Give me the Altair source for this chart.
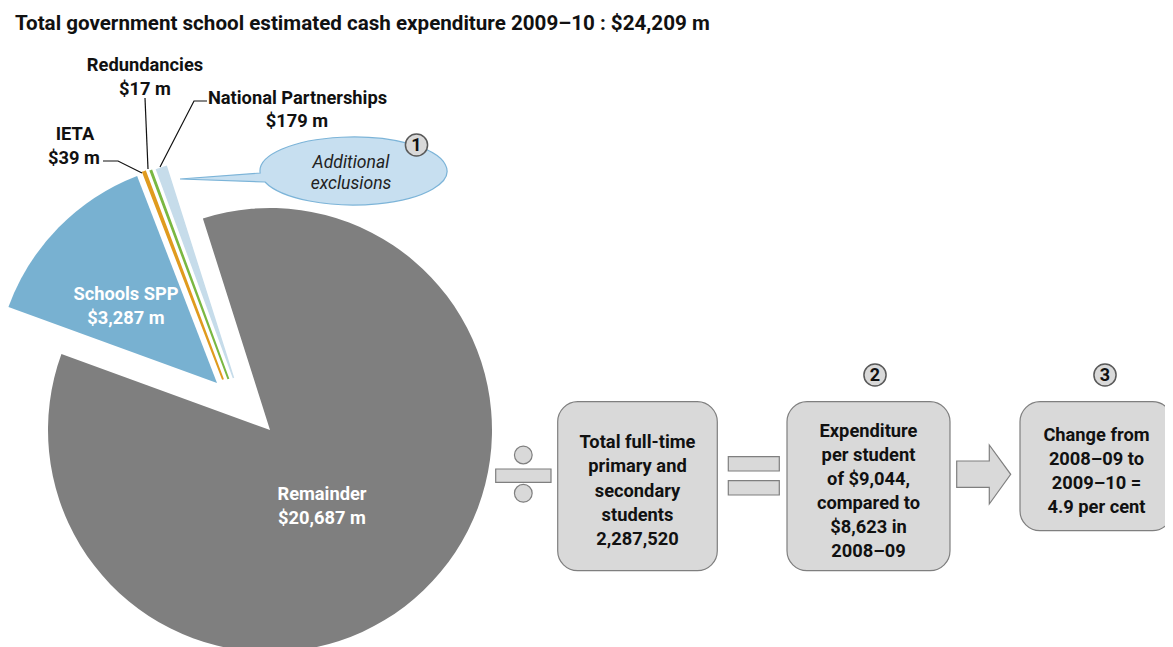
import math
import altair as alt
import pandas as pd

# ---------------- data ----------------
categories = ["Remainder", "Schools SPP", "IETA", "Redundancies", "National Partnerships"]
values = [20687, 3287, 39, 17, 179]          # $ million
slice_colors = ["#7f7f7f", "#78b1d1", "#e09b1e", "#7ab842", "#c6dcea"]
total = sum(values)                           # 24,209

title_text = "Total government school estimated cash expenditure 2009\u201310 : $24,209 m"
bubble_lines = ["Additional", "exclusions"]
box1_lines = ["Total full-time", "primary and", "secondary", "students", "2,287,520"]
box2_lines = ["Expenditure", "per student", "of $9,044,", "compared to", "$8,623 in", "2008\u201309"]
box3_lines = ["Change from", "2008\u201309 to", "2009\u201310 =", "4.9 per cent"]
step_numbers = ["1", "2", "3"]

# ---------------- layout / style ----------------
W, H = 1157, 639
FONT = "Roboto"
FS = 18.3
R = 222
theta0 = math.radians(-17.6)
slice_centers = {
    "Remainder": (262, 422),
    "Schools SPP": (209, 375),
    "IETA": (215, 371.5),
    "Redundancies": (220.4, 371),
    "National Partnerships": (225.5, 370),
}
slice_strokes = {"IETA": 2, "Redundancies": 2, "National Partnerships": 1.5}

pie_df = pd.DataFrame({"category": categories, "value": values,
                       "order": list(range(len(categories)))})
theta_scale = alt.Scale(domain=[0, total], range=[theta0, theta0 + 2 * math.pi])

pie_base = (alt.Chart(pie_df)
            .transform_window(cum="sum(value)", frame=[None, 0], sort=[alt.SortField("order")])
            .transform_calculate(start="datum.cum - datum.value", end="datum.cum"))

layers = []
for cat, col in zip(categories, slice_colors):
    cx, cy = slice_centers[cat]
    sw = slice_strokes.get(cat, 0)
    mk = dict(outerRadius=R, fill=col)
    if sw:
        mk.update(stroke=col, strokeWidth=sw)
    layers.append(
        pie_base.transform_filter(alt.datum.category == cat)
        .mark_arc(**mk)
        .encode(theta=alt.Theta("start:Q", scale=theta_scale),
                theta2=alt.Theta2("end:Q"),
                x=alt.value(cx), y=alt.value(cy))
    )

X = lambda f="x": alt.X(f + ":Q", scale=None, axis=None)
Y = lambda f="y": alt.Y(f + ":Q", scale=None, axis=None)

# leader lines
leaders = [
    ("IETA", [(95, 153), (110, 153), (134, 165)]),
    ("Redundancies", [(137, 90), (140, 161)]),
    ("National Partnerships", [(199, 93), (186, 93), (152, 159)]),
]
lead_rows = []
for name, pts in leaders:
    for i, (px, py) in enumerate(pts):
        lead_rows.append({"id": name, "i": i, "x": px, "y": py})
layers.append(alt.Chart(pd.DataFrame(lead_rows)).mark_line(color="#111111", strokeWidth=1.2)
              .encode(x=X(), y=Y(), detail="id:N", order="i:Q"))

# speech bubble (ellipse + tail) as custom symbol path, scale 1 px per unit (size=4)
def bubble_path(rx, ry, tip, t_up, t_low, n=4):
    P = lambda t: (rx * math.cos(t), ry * math.sin(t))
    D = lambda t: (-rx * math.sin(t), ry * math.cos(t))
    t0 = math.radians(t_up)
    t1 = math.radians(t_low + 360)
    d = (t1 - t0) / n
    a = 4 / 3 * math.tan(d / 4)
    p = P(t0)
    s = f"M {tip[0]:.2f} {tip[1]:.2f} L {p[0]:.2f} {p[1]:.2f}"
    for k in range(n):
        ta, tb = t0 + k * d, t0 + (k + 1) * d
        p0, p3, d0, d3 = P(ta), P(tb), D(ta), D(tb)
        p1 = (p0[0] + a * d0[0], p0[1] + a * d0[1])
        p2 = (p3[0] - a * d3[0], p3[1] - a * d3[1])
        s += f" C {p1[0]:.2f} {p1[1]:.2f} {p2[0]:.2f} {p2[1]:.2f} {p3[0]:.2f} {p3[1]:.2f}"
    return s + " Z"

bubble_shape = bubble_path(93.5, 34, (-173.5, 8), 176.6, 161.1)
layers.append(alt.Chart(pd.DataFrame({"x": [345.5], "y": [163]}))
              .mark_point(shape=bubble_shape, size=4, filled=True, fill="#c7dff0",
                          stroke="#7cb4d8", strokeWidth=1.2, opacity=1)
              .encode(x=X(), y=Y()))

# rounded boxes
boxes = pd.DataFrame({"x": [549.7, 779, 1012], "x2": [709.3, 942, 1164.5],
                      "y": [393.7, 393.7, 393.7], "y2": [562.7, 562.7, 522.7]})
layers.append(alt.Chart(boxes).mark_rect(cornerRadius=20, fill="#d9d9d9", stroke="#7f7f7f",
                                         strokeWidth=1.2)
              .encode(x=X(), x2="x2:Q", y=Y(), y2="y2:Q"))

# bars of divide / equals signs
bars = pd.DataFrame({"x": [487.7, 720.3, 720.3], "x2": [543, 771.3, 771.3],
                     "y": [461, 448.7, 472.7], "y2": [474.3, 463, 487]})
layers.append(alt.Chart(bars).mark_rect(fill="#d9d9d9", stroke="#7f7f7f", strokeWidth=1.2)
              .encode(x=X(), x2="x2:Q", y=Y(), y2="y2:Q"))

# dots of divide sign
dots = pd.DataFrame({"x": [515.3, 515.3], "y": [447, 485.3]})
layers.append(alt.Chart(dots).mark_point(shape="circle", size=314, filled=True, fill="#d9d9d9",
                                         stroke="#7f7f7f", strokeWidth=1.2, opacity=1)
              .encode(x=X(), y=Y()))

# arrow
arrow_shape = ("M -26.9 -13.3 L 5.7 -13.3 L 5.7 -29.3 L 27.1 0 L 5.7 29.7 L 5.7 13 "
               "L -26.9 13 Z")
layers.append(alt.Chart(pd.DataFrame({"x": [975.6], "y": [466.3]}))
              .mark_point(shape=arrow_shape, size=4, filled=True, fill="#d9d9d9",
                          stroke="#7f7f7f", strokeWidth=1.2, opacity=1)
              .encode(x=X(), y=Y()))

# numbered circles
nums = pd.DataFrame({"x": [408.5, 867, 1097], "y": [137, 367, 367], "t": step_numbers})
layers.append(alt.Chart(nums).mark_point(shape="circle", size=491, filled=True, fill="#d9d9d9",
                                         stroke="#595959", strokeWidth=1.5, opacity=1)
              .encode(x=X(), y=Y()))
layers.append(alt.Chart(nums).mark_text(font=FONT, fontSize=18, fontWeight="bold",
                                        color="#111111", baseline="middle", dy=1)
              .encode(x=X(), y=Y(), text="t:N"))

# ---------------- text ----------------
def money(v):
    return f"${v:,} m"

txt_rows = []
def add(text, x, y, group):
    txt_rows.append({"text": text, "x": x, "y": y, "g": group})

add(categories[0], 314, 485, "white"); add(money(values[0]), 314, 509, "white")
add(categories[1], 118, 285, "white"); add(money(values[1]), 118, 309, "white")
add(categories[2], 67, 125, "black");  add(money(values[2]), 66, 149, "black")
add(categories[3], 137, 56, "black");  add(money(values[3]), 137, 80, "black")
add(categories[4], 289.5, 89, "black"); add(money(values[4]), 289, 112, "black")

def add_block(lines, cx, cy, step, group):
    n = len(lines)
    for i, ln in enumerate(lines):
        add(ln, cx, cy + (i - (n - 1) / 2) * step, group)

add_block(box1_lines, 629.5, 482, 24.1, "black")
add_block(box2_lines, 860.5, 482.4, 24.1, "black")
add_block(box3_lines, 1088.5, 462, 24, "black")
add_block(bubble_lines, 343, 164.2, 21, "italic")

tdf = pd.DataFrame(txt_rows)
base_txt = alt.Chart(tdf).encode(x=X(), y=Y(), text="text:N")
layers.append(base_txt.transform_filter(alt.datum.g == "white")
              .mark_text(font=FONT, fontSize=FS, fontWeight="bold", color="#ffffff",
                         baseline="middle", align="center", dy=1.5))
layers.append(base_txt.transform_filter(alt.datum.g == "black")
              .mark_text(font=FONT, fontSize=FS, fontWeight="bold", color="#111111",
                         baseline="middle", align="center", dy=1.5))
layers.append(base_txt.transform_filter(alt.datum.g == "italic")
              .mark_text(font=FONT, fontSize=17.6, fontStyle="italic", color="#222222",
                         baseline="middle", align="center", dy=1.5))

title_df = pd.DataFrame({"text": [title_text], "x": [7], "y": [15.5]})
layers.append(alt.Chart(title_df).mark_text(font=FONT, fontSize=20.6, fontWeight="bold",
                                            color="#111111", baseline="middle", align="left")
              .encode(x=X(), y=Y(), text="text:N"))

chart = (alt.layer(*layers)
         .properties(width=W, height=H, padding=0,
                     autosize=alt.AutoSizeParams(type="none"))
         .configure_view(strokeWidth=0))

chart.save("out.html", embed_options={"renderer": "svg", "actions": False})
